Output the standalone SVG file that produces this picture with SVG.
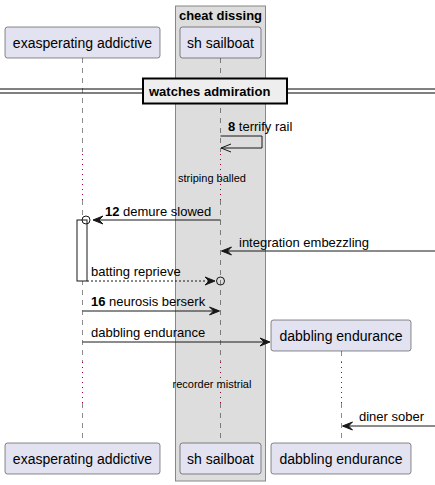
<svg xmlns="http://www.w3.org/2000/svg" width="435" height="485" viewBox="0 0 435 485">
<style>
.part{fill:#E2E2F0;stroke:#181818;stroke-width:0.5}
.pt{font-family:"Liberation Sans",Arial,sans-serif;font-size:14px;fill:#000;text-anchor:middle}
.bt{font-family:"Liberation Sans",Arial,sans-serif;font-size:13px;font-weight:bold;fill:#000;text-anchor:middle}
.life{stroke:#181818;stroke-width:0.5;stroke-dasharray:5,5;fill:none}
.delay{stroke:#A80036;stroke-width:1;stroke-dasharray:1,4;fill:none}
.msg{stroke:#181818;stroke-width:1;fill:none}
.dash{stroke-dasharray:2,2}
.head{fill:#181818;stroke:#181818;stroke-width:1}
.mt{font-family:"Liberation Sans",Arial,sans-serif;font-size:13px;fill:#000}
.st{font-family:"Liberation Sans",Arial,sans-serif;font-size:11px;fill:#000;text-anchor:middle}
.b{font-weight:bold}
</style>
<g id="box-cheat-dissing">
<rect x="175.5" y="6" width="90" height="475" fill="#DDDDDD" stroke="#888888" stroke-width="1"/>
<text class="bt" x="220.5" y="19.5">cheat dissing</text>
</g>
<g id="lifelines">
<path class="life" d="M82.5,58 V152 M82.5,200 V362 M82.5,403 V443"/>
<path class="delay" d="M82.5,154 V200 M82.5,362 V403"/>
<path class="life" d="M220.5,58 V152 M220.5,200 V362 M220.5,403 V443"/>
<path class="delay" d="M220.5,154 V200 M220.5,362 V403"/>
<path class="life" d="M341.5,351 V362 M341.5,403 V443"/>
<path class="delay" d="M341.5,362 V403"/>
</g>
<g id="divider">
<line x1="0" y1="89" x2="435" y2="89" stroke="#000" stroke-width="1"/>
<line x1="0" y1="93" x2="435" y2="93" stroke="#000" stroke-width="1"/>
<rect x="143" y="78.5" width="144" height="25" fill="#EEEEEE" stroke="#000" stroke-width="2"/>
<text class="mt b" x="149" y="96">watches admiration</text>
</g>
<g id="p-exasperating-top">
<rect class="part" x="5" y="27" width="155" height="31" rx="2.5"/>
<text class="pt" x="82.5" y="47.5">exasperating addictive</text>
</g>
<g id="p-sailboat-top">
<rect class="part" x="180" y="27" width="81" height="31" rx="2.5"/>
<text class="pt" x="220.5" y="47.5">sh sailboat</text>
</g>
<g id="activation">
<rect x="77" y="220" width="10" height="61" fill="#FFFFFF" stroke="#181818" stroke-width="1"/>
</g>
<g id="connectors">
<path class="msg" d="M220.5,136 H262 V148 H221"/>
<path class="msg" d="M231,144 L221,148 L231,152"/>
<text class="mt" x="228" y="131"><tspan class="b">8</tspan> terrify rail</text>
<text class="st" x="212" y="182">striping balled</text>
<line class="msg" x1="220.5" y1="220" x2="94" y2="220"/>
<polygon class="head" points="93,220 103,216 99,220 103,224"/>
<circle cx="86" cy="220" r="4" fill="none" stroke="#181818" stroke-width="1"/>
<text class="mt" x="105" y="216"><tspan class="b">12</tspan> demure slowed</text>
<line class="msg" x1="435" y1="251" x2="222" y2="251"/>
<polygon class="head" points="221.5,251 231.5,247 227.5,251 231.5,255"/>
<text class="mt" x="239" y="247">integration embezzling</text>
<line class="msg dash" x1="87" y1="281" x2="214" y2="281"/>
<polygon class="head" points="215,281 205,277 209,281 205,285"/>
<circle cx="220.5" cy="281" r="4" fill="none" stroke="#181818" stroke-width="1"/>
<text class="mt" x="91" y="276">batting reprieve</text>
<line class="msg" x1="82.5" y1="311" x2="218" y2="311"/>
<polygon class="head" points="219.5,311 209.5,307 213.5,311 209.5,315"/>
<text class="mt" x="91" y="306"><tspan class="b">16</tspan> neurosis berserk</text>
<line class="msg" x1="82.5" y1="342" x2="269" y2="342"/>
<polygon class="head" points="270,342 260,338 264,342 260,346"/>
<text class="mt" x="91" y="337">dabbling endurance</text>
<text class="st" x="212" y="388">recorder mistrial</text>
<line class="msg" x1="435" y1="426" x2="343" y2="426"/>
<polygon class="head" points="342.5,426 352.5,422 348.5,426 352.5,430"/>
<text class="mt" x="359" y="421">diner sober</text>
</g>
<g id="p-dabbling-top">
<rect class="part" x="271" y="320" width="140" height="31" rx="2.5"/>
<text class="pt" x="341" y="340.5">dabbling endurance</text>
</g>
<g id="p-exasperating-bottom">
<rect class="part" x="5" y="443" width="155" height="31" rx="2.5"/>
<text class="pt" x="82.5" y="463.5">exasperating addictive</text>
</g>
<g id="p-sailboat-bottom">
<rect class="part" x="180" y="443" width="81" height="31" rx="2.5"/>
<text class="pt" x="220.5" y="463.5">sh sailboat</text>
</g>
<g id="p-dabbling-bottom">
<rect class="part" x="271" y="443" width="140" height="31" rx="2.5"/>
<text class="pt" x="341" y="463.5">dabbling endurance</text>
</g>
</svg>
